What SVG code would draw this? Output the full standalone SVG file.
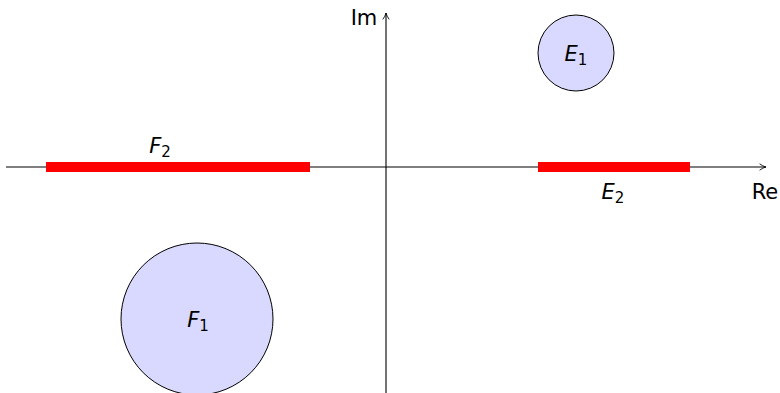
<svg xmlns="http://www.w3.org/2000/svg" width="780" height="393" viewBox="0 0 780 393">
<defs>
<style>
.axis{stroke:#000;stroke-width:1.1;fill:none}
.region{fill:#d9d9ff;stroke:#000;stroke-width:1}
.bar{stroke:#ff0000;stroke-width:10;fill:none}
.lbl{font-family:"DejaVu Sans","Liberation Sans",sans-serif;font-size:21px;fill:#000}
.it{font-style:italic}
.sub{font-size:15px}
</style>
<marker id="arr" viewBox="0 0 10 10" refX="9" refY="5" markerWidth="8" markerHeight="8" markerUnits="userSpaceOnUse" orient="auto">
<path d="M1,1 Q5,4 9,5 Q5,6 1,9" fill="none" stroke="#000" stroke-width="1.1"/>
</marker>
</defs>
<g id="connectors">
<line class="axis" x1="6" y1="167" x2="766" y2="167" marker-end="url(#arr)"/>
<line class="axis" x1="386" y1="395" x2="386" y2="13" marker-end="url(#arr)"/>
</g>
<g id="F2">
<line class="bar" x1="46" y1="167" x2="310" y2="167"/>
<text class="lbl" x="160" y="153" text-anchor="middle"><tspan class="it">F</tspan><tspan class="sub" dy="4">2</tspan></text>
</g>
<g id="E2">
<line class="bar" x1="538" y1="167" x2="690" y2="167"/>
<text class="lbl" x="613" y="199" text-anchor="middle"><tspan class="it">E</tspan><tspan class="sub" dy="4">2</tspan></text>
</g>
<g id="E1">
<circle class="region" cx="576" cy="53" r="38"/>
<text class="lbl" x="576" y="61" text-anchor="middle"><tspan class="it">E</tspan><tspan class="sub" dy="4">1</tspan></text>
</g>
<g id="F1">
<circle class="region" cx="197" cy="319" r="76"/>
<text class="lbl" x="198" y="327" text-anchor="middle"><tspan class="it">F</tspan><tspan class="sub" dy="4">1</tspan></text>
</g>
<g id="labels">
<text class="lbl" x="364" y="25" text-anchor="middle">Im</text>
<text class="lbl" x="765" y="199" text-anchor="middle">Re</text>
</g>
</svg>
